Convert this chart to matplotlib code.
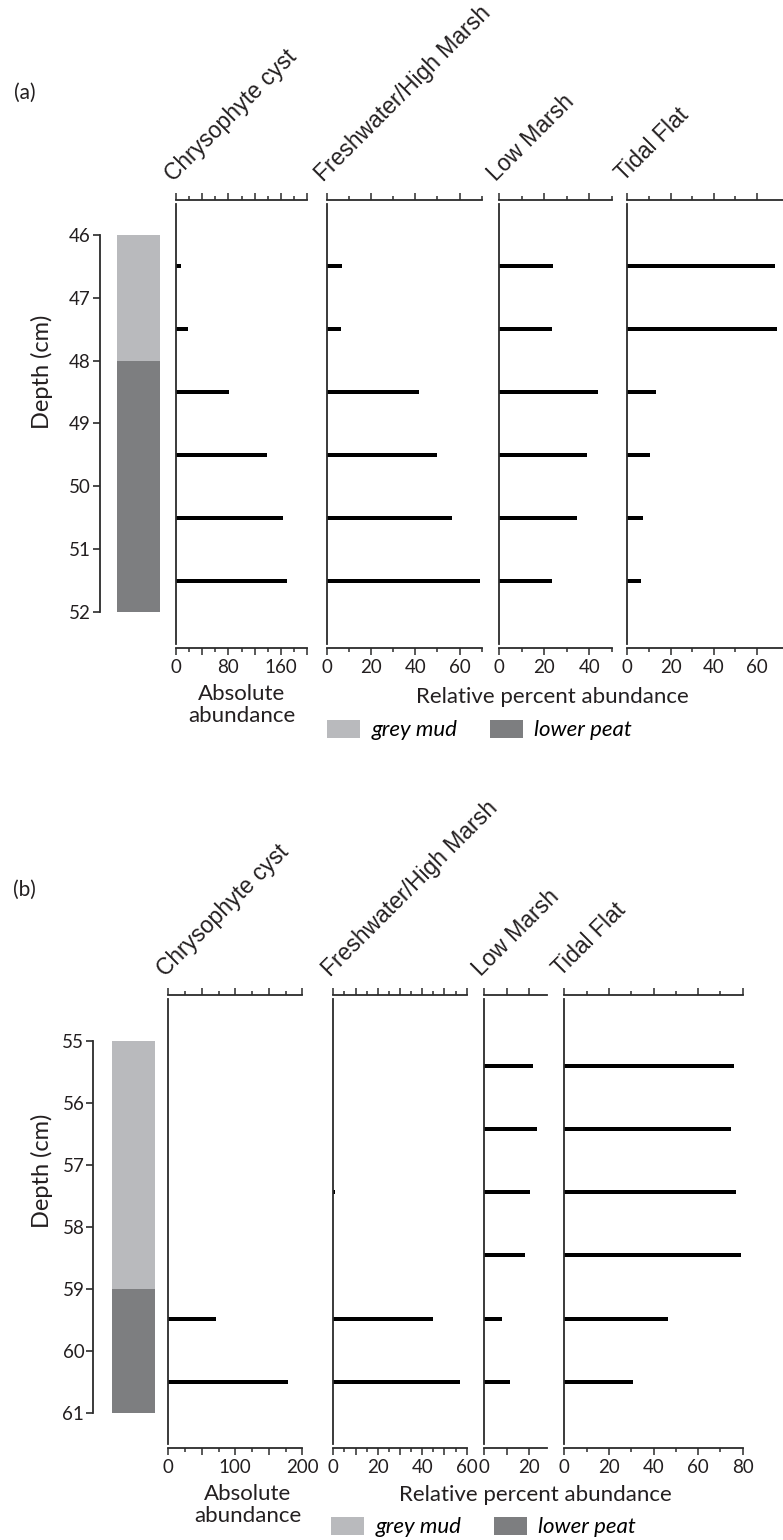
import matplotlib
matplotlib.use("Agg")
import matplotlib.pyplot as plt
from matplotlib.patches import Patch
from matplotlib.ticker import FixedLocator, FuncFormatter

# ---------------- data ----------------
taxa = ["Chrysophyte cyst", "Freshwater/High Marsh", "Low Marsh", "Tidal Flat"]

depth_a = [46.5, 47.5, 48.5, 49.5, 50.5, 51.5]
chryso_a = [8, 18, 81, 139, 163, 170]
fresh_a = [7, 6.3, 41.7, 50, 56.7, 69.4]
low_a = [24, 23.4, 44, 38.9, 34.4, 23.4]
tidal_a = [68.5, 69.2, 13.2, 10.3, 7.3, 6.5]

depth_b = [55.40, 56.42, 57.44, 58.46, 59.48, 60.50]
chryso_b = [0, 0, 0, 0, 71, 178]
fresh_b = [0, 0, 0.8, 0, 45, 57]
low_b = [22, 23.5, 20.5, 18.3, 7.8, 11.5]
tidal_b = [76.2, 74.7, 77, 79.2, 46.6, 31]

litho_names = ["grey mud", "lower peat"]
litho_colors = ["#b9babd", "#7d7e80"]
litho_top_a = [46, 48]
litho_bot_a = [48, 52]
litho_top_b = [55, 59]
litho_bot_b = [59, 61]

depth_ticks_a = [46, 47, 48, 49, 50, 51, 52]
depth_ticks_b = [55, 56, 57, 58, 59, 60, 61]

# x ranges, tick sets (major, minor, labelled)
xlim_a = [200, 70, 50, 72]
major_a = [[0, 40, 80, 120, 160, 200], [0, 20, 40, 60], [0, 20, 40], [0, 20, 40, 60]]
minor_a = [list(range(0, 201, 20)), [10, 30, 50, 70], [10, 30, 50], [10, 30, 50]]
label_a = [[0, 80, 160], [0, 20, 40, 60], [0, 20, 40], [0, 20, 40, 60]]

xlim_b = [200, 60, 28, 80]
major_b = [[0, 50, 100, 150, 200], [0, 10, 20, 30, 40, 50, 60], [0, 10, 20], [0, 20, 40, 60, 80]]
minor_b = [[25, 75, 125, 175], [5, 15, 25, 35, 45, 55], [], [10, 30, 50, 70]]
label_b = [[0, 100, 200], [0, 20, 40, 60], [0, 20], [0, 20, 40, 60, 80]]

# ---------------- layout (pixels) ----------------
W, H = 783, 1540
TXT = "#231f20"
LINE = "#2b2b2b"
FONT = ["Lato", "DejaVu Sans"]
HFONT = ["Liberation Sans", "DejaVu Sans"]

fig = plt.figure(figsize=(W / 100, H / 100), dpi=100)


def px_axes(x0, x1, y0, y1):
    return fig.add_axes([x0 / W, 1 - y1 / H, (x1 - x0) / W, (y1 - y0) / H])


def ftext(x, y, s, **kw):
    return fig.text(x / W, 1 - y / H, s, **kw)


def panel(cfg):
    d0, yd0, ppc = cfg["d0"], cfg["yd0"], cfg["ppc"]
    ytop, ybot = cfg["ytop"], cfg["ybot"]

    def dep(ypx):
        return d0 + (ypx - yd0) / ppc

    # depth / lithology column
    axd = px_axes(cfg["dx"], cfg["dx"] + 70, ytop, ybot)
    axd.set_ylim(dep(ybot), dep(ytop))
    axd.set_xlim(0, 70)
    c0, c1 = cfg["core"]
    for t, b, col in zip(cfg["ltop"], cfg["lbot"], litho_colors):
        axd.bar((c0 + c1) / 2, b - t, bottom=t, width=c1 - c0, color=col,
                edgecolor="none")
    for s in ["top", "right", "bottom"]:
        axd.spines[s].set_visible(False)
    axd.spines["left"].set_bounds(cfg["dticks"][0], cfg["dticks"][-1])
    axd.spines["left"].set_color(LINE)
    axd.spines["left"].set_linewidth(1.3)
    axd.set_xticks([])
    axd.set_yticks(cfg["dticks"])
    axd.set_yticklabels([str(v) for v in cfg["dticks"]], fontsize=13.5,
                        family=FONT, color=TXT)
    axd.tick_params(axis="y", direction="out", length=5, width=1.2,
                    color=LINE, pad=1.5)
    axd.patch.set_visible(False)
    ftext(42, cfg["dlab_y"], "Depth (cm)", rotation=90, ha="center",
          va="center", fontsize=17, family=FONT, color=TXT)

    # abundance panels
    for i, (x0, x1) in enumerate(cfg["xs"]):
        ax = px_axes(x0, x1, ytop + 4, ybot - 4)
        ax.set_ylim(dep(ybot - 4), dep(ytop + 4))
        ax.set_xlim(0, cfg["xlim"][i])
        ax.barh(cfg["depth"], cfg["vals"][i], height=0.065, color="black",
                left=0)
        ax.spines["right"].set_visible(False)
        for s in ["top", "bottom"]:
            ax.spines[s].set_position(("outward", 3))
        for s in ["top", "bottom", "left"]:
            ax.spines[s].set_color(LINE)
            ax.spines[s].set_linewidth(1.3)
        ax.set_yticks([])
        ax.xaxis.set_major_locator(FixedLocator(cfg["major"][i]))
        ax.xaxis.set_minor_locator(FixedLocator(cfg["minor"][i]))
        labs = cfg["labels"][i]
        ax.xaxis.set_major_formatter(
            FuncFormatter(lambda v, p, labs=labs: f"{v:g}" if v in labs else ""))
        ax.tick_params(axis="x", which="both", direction="out", top=True,
                       bottom=True, labeltop=False, color=LINE, width=1.1)
        ax.tick_params(axis="x", which="major", length=5, pad=3,
                       labelsize=13.5, labelcolor=TXT)
        ax.tick_params(axis="x", which="minor", length=3.2)
        for lab in ax.get_xticklabels():
            lab.set_family(FONT)
        ax.patch.set_visible(False)
        ftext(x0 - 3, ytop - 18, taxa[i], rotation=45, rotation_mode="anchor",
              ha="left", va="baseline", fontsize=16.5, family=HFONT,
              color=TXT)

    ftext(cfg["abs_x"], cfg["abs_y"], "Absolute\nabundance", ha="center",
          va="center", fontsize=16, family=FONT, color=TXT, linespacing=1.15)
    ftext(cfg["rel_x"], cfg["rel_y"], "Relative percent abundance",
          ha="center", va="center", fontsize=16, family=FONT, color=TXT)
    ftext(cfg["tag_x"], cfg["tag_y"], cfg["tag"], ha="left", va="center",
          fontsize=15, family=FONT, color=TXT)

    handles = [Patch(facecolor=c, edgecolor="none") for c in litho_colors]
    fig.legend(handles, litho_names, loc="center left",
               bbox_to_anchor=(cfg["leg_x"] / W, 1 - cfg["leg_y"] / H),
               ncol=2, frameon=False, borderpad=0, borderaxespad=0,
               handlelength=1.5, handleheight=0.86, handletextpad=0.5,
               columnspacing=1.45,
               prop={"family": FONT, "style": "italic", "size": 16})


panel(dict(d0=46, yd0=235, ppc=62.83, ytop=200, ybot=648, dx=100,
           core=(17, 60), ltop=litho_top_a, lbot=litho_bot_a,
           dticks=depth_ticks_a, dlab_y=372,
           xs=[(176, 307), (326.7, 481.7), (499.3, 611.7), (627.3, 783)],
           xlim=xlim_a, major=major_a, minor=minor_a, labels=label_a,
           depth=depth_a, vals=[chryso_a, fresh_a, low_a, tidal_a],
           abs_x=242, abs_y=705, rel_x=552, rel_y=697,
           tag="(a)", tag_x=14, tag_y=93, leg_x=327, leg_y=730))

panel(dict(d0=55, yd0=1041, ppc=61.95, ytop=995, ybot=1448, dx=93.3,
           core=(18.4, 61.7), ltop=litho_top_b, lbot=litho_bot_b,
           dticks=depth_ticks_b, dlab_y=1171,
           xs=[(168.3, 302.3), (333.3, 466.7), (484.3, 546.7), (564.3, 742.7)],
           xlim=xlim_b, major=major_b, minor=minor_b, labels=label_b,
           depth=depth_b, vals=[chryso_b, fresh_b, low_b, tidal_b],
           abs_x=248, abs_y=1505, rel_x=535, rel_y=1495,
           tag="(b)", tag_x=13, tag_y=890, leg_x=331, leg_y=1527))

fig.savefig("out.png", dpi=100, facecolor="white")
